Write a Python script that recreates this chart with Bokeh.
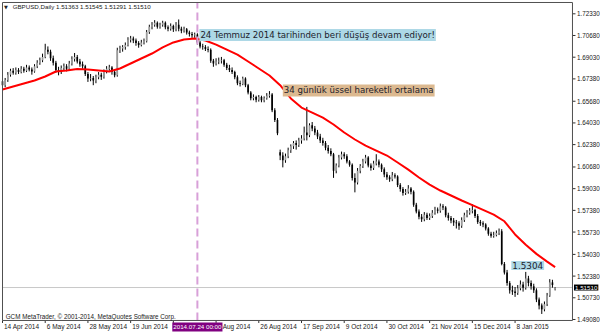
from bokeh.plotting import figure
from bokeh.models import Range1d, Label, ColumnDataSource
from bokeh.core.properties import value
from bokeh.embed import file_html
from bokeh.resources import INLINE

opens = [1.6720,1.6690,1.6730,1.6770,1.6800,1.6785,1.6805,1.6790,1.6815,1.6800,
1.6825,1.6810,1.6795,1.6835,1.6860,1.6880,1.6905,1.6960,1.6945,1.6895,
1.6860,1.6805,1.6790,1.6820,1.6835,1.6815,1.6855,1.6890,1.6905,1.6870,
1.6850,1.6835,1.6775,1.6740,1.6745,1.6725,1.6750,1.6770,1.6755,1.6795,
1.6815,1.6825,1.6790,1.6765,1.6955,1.6970,1.6980,1.6995,1.7035,1.7045,
1.7030,1.7010,1.6995,1.7015,1.7025,1.7095,1.7135,1.7150,1.7165,1.7135,
1.7150,1.7165,1.7130,1.7120,1.7140,1.7115,1.7150,1.7120,1.7105,1.7115,
1.7090,1.7080,1.7070,1.7075,1.7015,1.6985,1.6980,1.6965,1.6960,1.6875,
1.6855,1.6870,1.6875,1.6880,1.6845,1.6820,1.6805,1.6790,1.6750,1.6705,
1.6700,1.6740,1.6690,1.6635,1.6590,1.6600,1.6580,1.6600,1.6575,1.6590,
1.6610,1.6620,1.6500,1.6425,1.6180,1.6155,1.6120,1.6150,1.6195,1.6225,
1.6250,1.6235,1.6270,1.6285,1.6330,1.6310,1.6385,1.6360,1.6330,1.6300,
1.6270,1.6250,1.6215,1.6190,1.6165,1.6040,1.6080,1.6140,1.6165,1.6150,
1.6110,1.6085,1.5985,1.5950,1.6040,1.6075,1.6110,1.6140,1.6080,1.6060,
1.6095,1.6110,1.6085,1.6050,1.6010,1.5990,1.5975,1.6005,1.5995,1.5930,
1.5900,1.5870,1.5880,1.5905,1.5880,1.5780,1.5730,1.5690,1.5670,1.5705,
1.5680,1.5695,1.5720,1.5745,1.5735,1.5770,1.5760,1.5700,1.5680,1.5660,
1.5645,1.5640,1.5620,1.5665,1.5700,1.5720,1.5735,1.5740,1.5695,1.5650,
1.5640,1.5630,1.5600,1.5560,1.5545,1.5550,1.5565,1.5580,1.5330,1.5265,
1.5185,1.5130,1.5120,1.5110,1.5145,1.5175,1.5150,1.5220,1.5185,1.5160,
1.5130,1.5060,1.5015,1.4985,1.5025,1.5090,1.5190,1.51363]

highs = [1.6735,1.6745,1.6790,1.6815,1.6820,1.6825,1.6820,1.6835,1.6830,1.6845,
1.6840,1.6825,1.6850,1.6880,1.6900,1.6930,1.7005,1.6985,1.6960,1.6915,
1.6875,1.6830,1.6840,1.6855,1.6850,1.6875,1.6910,1.6935,1.6920,1.6890,
1.6870,1.6845,1.6790,1.6775,1.6760,1.6770,1.6790,1.6785,1.6810,1.6835,
1.6845,1.6835,1.6805,1.6975,1.6990,1.6995,1.7015,1.7055,1.7065,1.7060,
1.7045,1.7025,1.7035,1.7045,1.7110,1.7150,1.7170,1.7185,1.7175,1.7165,
1.7180,1.7175,1.7145,1.7160,1.7150,1.7170,1.7190,1.7135,1.7135,1.7125,
1.7105,1.7095,1.7090,1.7085,1.7030,1.7005,1.6995,1.6985,1.6970,1.6890,
1.6895,1.6900,1.6905,1.6890,1.6860,1.6845,1.6825,1.6800,1.6765,1.6725,
1.6755,1.6750,1.6700,1.6645,1.6620,1.6610,1.6615,1.6610,1.6605,1.6630,
1.6645,1.6630,1.6515,1.6440,1.6200,1.6180,1.6170,1.6215,1.6240,1.6265,
1.6270,1.6290,1.6310,1.6375,1.6525,1.6400,1.6410,1.6380,1.6350,1.6320,
1.6290,1.6265,1.6235,1.6210,1.6175,1.6095,1.6160,1.6185,1.6180,1.6165,
1.6120,1.6095,1.6020,1.6060,1.6090,1.6130,1.6160,1.6150,1.6095,1.6115,
1.6165,1.6125,1.6095,1.6065,1.6030,1.6005,1.6030,1.6020,1.6005,1.5945,
1.5915,1.5900,1.5930,1.5915,1.5890,1.5795,1.5745,1.5710,1.5725,1.5720,
1.5715,1.5740,1.5765,1.5760,1.5790,1.5785,1.5770,1.5720,1.5695,1.5680,
1.5665,1.5655,1.5685,1.5720,1.5740,1.5755,1.5785,1.5750,1.5710,1.5665,
1.5655,1.5640,1.5610,1.5575,1.5575,1.5585,1.5600,1.5595,1.5345,1.5285,
1.5200,1.5165,1.5155,1.5170,1.5205,1.5195,1.5270,1.5240,1.5205,1.5180,
1.5145,1.5075,1.5030,1.5045,1.5110,1.5215,1.5210,1.51545]

lows = [1.6660,1.6675,1.6715,1.6755,1.6770,1.6770,1.6775,1.6780,1.6785,1.6790,
1.6795,1.6770,1.6785,1.6820,1.6845,1.6865,1.6895,1.6925,1.6875,1.6840,
1.6785,1.6765,1.6775,1.6800,1.6795,1.6805,1.6840,1.6870,1.6855,1.6830,
1.6815,1.6760,1.6715,1.6720,1.6690,1.6705,1.6735,1.6730,1.6740,1.6780,
1.6800,1.6770,1.6750,1.6755,1.6935,1.6945,1.6960,1.6985,1.7015,1.7010,
1.6990,1.6975,1.6985,1.7000,1.7015,1.7080,1.7115,1.7135,1.7120,1.7120,
1.7135,1.7115,1.7100,1.7105,1.7095,1.7100,1.7100,1.7085,1.7090,1.7075,
1.7060,1.7050,1.7050,1.7000,1.6970,1.6960,1.6950,1.6940,1.6860,1.6830,
1.6840,1.6850,1.6855,1.6830,1.6805,1.6790,1.6775,1.6735,1.6690,1.6680,
1.6690,1.6675,1.6620,1.6575,1.6575,1.6560,1.6565,1.6560,1.6560,1.6580,
1.6595,1.6485,1.6410,1.6310,1.6120,1.6065,1.6100,1.6135,1.6175,1.6205,
1.6200,1.6220,1.6245,1.6270,1.6270,1.6295,1.6340,1.6310,1.6280,1.6250,
1.6230,1.6195,1.6170,1.6150,1.5985,1.6020,1.6065,1.6125,1.6130,1.6095,
1.6070,1.5965,1.5875,1.5935,1.6020,1.6060,1.6095,1.6065,1.6040,1.6045,
1.6080,1.6065,1.6030,1.5990,1.5970,1.5955,1.5960,1.5980,1.5915,1.5880,
1.5850,1.5855,1.5865,1.5860,1.5765,1.5715,1.5670,1.5650,1.5655,1.5665,
1.5665,1.5680,1.5705,1.5715,1.5720,1.5740,1.5685,1.5660,1.5640,1.5620,
1.5600,1.5590,1.5605,1.5650,1.5685,1.5705,1.5715,1.5680,1.5635,1.5620,
1.5610,1.5585,1.5545,1.5530,1.5530,1.5540,1.5550,1.5320,1.5250,1.5165,
1.5105,1.5095,1.5080,1.5095,1.5130,1.5120,1.5135,1.5160,1.5135,1.5110,
1.5040,1.4985,1.4950,1.4970,1.5010,1.5080,1.5150,1.51291]

closes = [1.6690,1.6730,1.6770,1.6800,1.6785,1.6805,1.6790,1.6815,1.6800,1.6825,
1.6810,1.6795,1.6835,1.6860,1.6880,1.6905,1.6960,1.6945,1.6895,1.6860,
1.6805,1.6790,1.6820,1.6835,1.6815,1.6855,1.6890,1.6905,1.6870,1.6850,
1.6835,1.6775,1.6740,1.6745,1.6725,1.6750,1.6770,1.6755,1.6795,1.6815,
1.6825,1.6790,1.6765,1.6955,1.6970,1.6980,1.6995,1.7035,1.7045,1.7030,
1.7010,1.6995,1.7015,1.7025,1.7095,1.7135,1.7150,1.7165,1.7135,1.7150,
1.7165,1.7130,1.7120,1.7140,1.7115,1.7150,1.7120,1.7105,1.7115,1.7090,
1.7080,1.7070,1.7075,1.7015,1.6985,1.6980,1.6965,1.6960,1.6875,1.6855,
1.6870,1.6875,1.6880,1.6845,1.6820,1.6805,1.6790,1.6750,1.6705,1.6700,
1.6740,1.6690,1.6635,1.6590,1.6600,1.6580,1.6600,1.6575,1.6590,1.6610,
1.6620,1.6500,1.6425,1.6325,1.6155,1.6120,1.6150,1.6195,1.6225,1.6250,
1.6235,1.6270,1.6285,1.6330,1.6310,1.6385,1.6360,1.6330,1.6300,1.6270,
1.6250,1.6215,1.6190,1.6165,1.6040,1.6080,1.6140,1.6165,1.6150,1.6110,
1.6085,1.5985,1.5950,1.6040,1.6075,1.6110,1.6140,1.6080,1.6060,1.6095,
1.6110,1.6085,1.6050,1.6010,1.5990,1.5975,1.6005,1.5995,1.5930,1.5900,
1.5870,1.5880,1.5905,1.5880,1.5780,1.5730,1.5690,1.5670,1.5705,1.5680,
1.5695,1.5720,1.5745,1.5735,1.5770,1.5760,1.5700,1.5680,1.5660,1.5645,
1.5640,1.5620,1.5665,1.5700,1.5720,1.5735,1.5740,1.5695,1.5650,1.5640,
1.5630,1.5600,1.5560,1.5545,1.5550,1.5565,1.5580,1.5330,1.5265,1.5185,
1.5130,1.5120,1.5110,1.5145,1.5175,1.5150,1.5220,1.5185,1.5160,1.5130,
1.5060,1.5015,1.4985,1.5025,1.5090,1.5190,1.5170,1.51510]

ema_idx = [0,4,8,12,16,20,24,28,32,36,40,44,48,52,56,60,64,68,72,76,80,84,88,92,96,
100,104,108,112,116,120,124,128,132,136,140,144,148,152,156,160,164,168,172,176,
180,184,188,192,196,200,204,207]
ema_vals = [1.6657,1.6680,1.6703,1.6726,1.6756,1.6794,1.6802,1.6813,1.6809,1.6802,
1.6794,1.6817,1.6855,1.6893,1.6931,1.6977,1.7015,1.7038,1.7045,1.7030,1.6999,1.6961,
1.6923,1.6870,1.6817,1.6764,1.6690,1.6589,1.6520,1.6482,1.6444,1.6391,1.6330,1.6277,
1.6231,1.6193,1.6155,1.6102,1.6048,1.5988,1.5934,1.5889,1.5851,1.5813,1.5778,1.5742,
1.5705,1.5655,1.5555,1.5476,1.5407,1.5348,1.5306]

date_ticks = [0,16,32,48,64,80,96,112,128,144,160,176,192]
date_labels = ["14 Apr 2014","6 May 2014","28 May 2014","19 Jun 2014","11 Jul 2014",
               "4 Aug 2014","26 Aug 2014","17 Sep 2014","9 Oct 2014","30 Oct 2014",
               "21 Nov 2014","15 Dec 2014","8 Jan 2015"]
price_ticks = [1.72330,1.70680,1.69030,1.67380,1.65680,1.64030,1.62380,1.60680,
               1.59030,1.57380,1.55730,1.54030,1.52380,1.50730,1.49080]

event_index = 73
event_label = "2014.07.24 00:00"
last_price = 1.51510
ema_label = "1.5304"

# ---- geometry (MetaTrader style window: chart box + price scale + time scale) ----
W, H = 600, 333
XL, XR = -0.75, 224.0          # whole canvas in bar units
YB, YT = 1.48014, 1.73342      # whole canvas in price units
PXX = (XR - XL) / W            # bar units per pixel
PXY = (YT - YB) / H            # price units per pixel
CX0, CX1 = 0.0, 213.5          # chart box, bar units
CY0, CY1 = 1.49004, 1.73190    # chart box, price units

FONT = "Liberation Sans"
TXT = "#202020"

idx = list(range(len(closes)))
body_top = [max(o, c) for o, c in zip(opens, closes)]
body_bot = [min(o, c) for o, c in zip(opens, closes)]
body_col = ["#9a9a9a" if c >= o else "#000000" for o, c in zip(opens, closes)]
src = ColumnDataSource(dict(x=idx, o=opens, h=highs, l=lows, c=closes,
                            top=body_top, bot=body_bot, col=body_col))

p = figure(width=W, height=H, output_backend="svg", toolbar_location=None,
           x_range=Range1d(XL, XR), y_range=Range1d(YB, YT),
           x_axis_location=None, y_axis_location=None, min_border=0)
p.background_fill_color = "white"
p.border_fill_color = "white"
p.outline_line_color = None
p.grid.visible = False

# price scale (right)
n = len(price_ticks)
p.segment(x0=[CX1] * n, x1=[CX1 + 3 * PXX] * n, y0=price_ticks, y1=price_ticks,
          line_color="#303030", line_width=1)
p.text(x=[CX1 + 4.5 * PXX] * n, y=price_ticks, text=["%.5f" % v for v in price_ticks],
       text_font=value(FONT), text_font_size="6.3px", text_color=TXT,
       text_baseline="middle", text_align="left")

# time scale (bottom), labels left-aligned at their tick like MetaTrader
m = len(date_ticks)
p.segment(x0=date_ticks, x1=date_ticks, y0=[CY0] * m, y1=[CY0 - 2.5 * PXY] * m,
          line_color="#303030", line_width=1)
p.text(x=[t + 1.5 * PXX for t in date_ticks], y=[CY0 - 6.5 * PXY] * m, text=date_labels,
       text_font=value(FONT), text_font_size="6.5px", text_color=TXT,
       text_baseline="middle", text_align="left")

# current price line
p.segment(x0=[CX0], x1=[CX1], y0=[last_price], y1=[last_price], line_color="#c8c8c8", line_width=1)

# candles
p.segment(x0="x", y0="l", x1="x", y1="h", source=src, line_color="black", line_width=1)
p.vbar(x="x", width=0.62, top="top", bottom="bot", source=src, fill_color="col", line_color=None)

# EMA 34
p.line(ema_idx, ema_vals, line_color="#ff0000", line_width=2)

# event vertical line
p.segment(x0=[event_index], x1=[event_index], y0=[CY0], y1=[CY1], line_color="#d8a0d8",
          line_width=2, line_dash="8 4")

# chart box border
p.quad(left=[CX0], right=[CX1], bottom=[CY0], top=[CY1], fill_color=None,
       line_color="#505050", line_width=1)

# texts
p.add_layout(Label(x=event_index, y=1.7072, x_offset=2, text="24 Temmuz 2014 tarihinden beri düşüş devam ediyor!",
                   text_font="DejaVu Sans", text_font_size="8.65px", text_color="#1c1c2c",
                   text_baseline="middle", background_fill_color="#add8e6", padding=1))
p.add_layout(Label(x=105, y=1.6650, text="34 günlük üssel hareketli ortalama",
                   text_font="DejaVu Sans", text_font_size="8.65px", text_color="#1c1c2c",
                   text_baseline="middle", background_fill_color="#dcb990", padding=1))
p.add_layout(Label(x=190.6, y=1.5319, text=ema_label,
                   text_font="DejaVu Sans", text_font_size="8.8px", text_color="#1c1c2c",
                   text_baseline="middle", background_fill_color="#add8e6", padding=1))

p.add_layout(Label(x=0.6, y=1.72885, text="▼", text_font="DejaVu Sans", text_font_size="5px",
                   text_color=TXT, text_baseline="middle"))
p.add_layout(Label(x=3.8, y=1.72885, text="GBPUSD,Daily  1.51363 1.51545 1.51291 1.51510",
                   text_font=FONT, text_font_size="6.2px", text_color=TXT, text_baseline="middle"))
p.add_layout(Label(x=1.2, y=1.49308, text="GCM MetaTrader, © 2001-2014, MetaQuotes Software Corp.",
                   text_font=FONT, text_font_size="6.3px", text_color=TXT, text_baseline="middle"))

p.add_layout(Label(x=event_index, y=CY0 - 6.5 * PXY, text=event_label, text_align="center",
                   text_font=FONT, text_font_size="6.2px", text_color="white", text_baseline="middle",
                   background_fill_color="#800080", padding=1))
p.add_layout(Label(x=CX1 + 1.5 * PXX, y=last_price, text="%.5f" % last_price,
                   text_font=FONT, text_font_size="6.2px", text_color="white", text_baseline="middle",
                   background_fill_color="black", padding=1))

open("out.html", "w").write(file_html(p, INLINE))
